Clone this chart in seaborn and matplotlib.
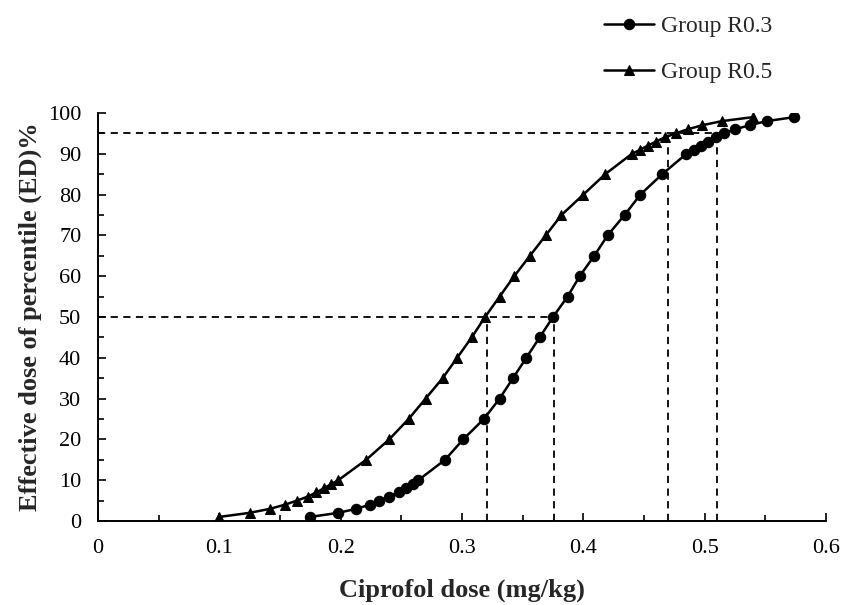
import matplotlib
matplotlib.use("Agg")
import matplotlib.pyplot as plt
import seaborn as sns
import pandas as pd
from matplotlib.ticker import MultipleLocator

# Data
ed_levels = [1, 2, 3, 4, 5, 6, 7, 8, 9, 10, 15, 20, 25, 30, 35, 40, 45, 50, 55, 60,
             65, 70, 75, 80, 85, 90, 91, 92, 93, 94, 95, 96, 97, 98, 99]
dose_r03 = [0.175, 0.198, 0.213, 0.224, 0.232, 0.240, 0.248, 0.254, 0.260, 0.264,
            0.286, 0.301, 0.318, 0.331, 0.342, 0.353, 0.364, 0.375, 0.387, 0.397,
            0.409, 0.420, 0.434, 0.447, 0.465, 0.485, 0.491, 0.497, 0.503, 0.509,
            0.516, 0.525, 0.537, 0.551, 0.574]
dose_r05 = [0.100, 0.125, 0.142, 0.154, 0.164, 0.173, 0.180, 0.186, 0.192, 0.198,
            0.221, 0.240, 0.256, 0.270, 0.284, 0.296, 0.308, 0.319, 0.331, 0.343,
            0.356, 0.369, 0.382, 0.400, 0.418, 0.440, 0.447, 0.453, 0.460, 0.467,
            0.476, 0.486, 0.498, 0.514, 0.540]
series_names = ["Group R0.3", "Group R0.5"]

# Reference lines (ED50 / ED95)
ed50_doses = [0.321, 0.376]
ed95_doses = [0.470, 0.510]
ref_levels = [50, 95]

x_label = "Ciprofol dose (mg/kg)"
y_label = "Effective dose of percentile (ED)%"

df = pd.concat([
    pd.DataFrame({"dose": dose_r03, "ed": ed_levels, "group": series_names[0]}),
    pd.DataFrame({"dose": dose_r05, "ed": ed_levels, "group": series_names[1]}),
], ignore_index=True)

sns.set_style("ticks")
plt.rcParams["font.family"] = ["Liberation Serif", "DejaVu Serif"]

fig = plt.figure(figsize=(8.46, 6.05), dpi=100)
ax = fig.add_axes([98 / 846, 1 - 521 / 605, (826 - 98) / 846, (521 - 113) / 605])

sns.lineplot(data=df, x="dose", y="ed", hue="group", style="group",
             markers={series_names[0]: "o", series_names[1]: "^"},
             dashes=False, palette=["black", "black"], sort=False,
             markersize=7.5, markeredgecolor="black", linewidth=1.8, ax=ax,
             legend=True)

dash = (0, (4, 3))
# horizontal dashed lines
ax.plot([0, ed50_doses[1]], [ref_levels[0]] * 2, color="black", lw=1.3, ls=dash)
ax.plot([0, ed95_doses[1]], [ref_levels[1]] * 2, color="black", lw=1.3, ls=dash)
# vertical dashed lines
for d in ed50_doses:
    ax.plot([d, d], [0, ref_levels[0]], color="black", lw=1.3, ls=dash)
for d in ed95_doses:
    ax.plot([d, d], [0, ref_levels[1]], color="black", lw=1.3, ls=dash)

ax.set_xlim(0, 0.6)
ax.set_ylim(0, 100)
ax.xaxis.set_major_locator(MultipleLocator(0.1))
ax.xaxis.set_minor_locator(MultipleLocator(0.05))
ax.yaxis.set_major_locator(MultipleLocator(10))
ax.yaxis.set_minor_locator(MultipleLocator(5))
ax.set_xticklabels([f"{v:g}" for v in ax.get_xticks()])
ax.tick_params(axis="both", which="both", direction="in", width=1.2, colors="black",
               labelsize=16)
ax.tick_params(axis="both", which="major", length=5.5)
ax.tick_params(axis="both", which="minor", length=4)
ax.tick_params(axis="x", which="major", pad=13)
ax.tick_params(axis="y", which="major", pad=12)

for s in ["top", "right"]:
    ax.spines[s].set_visible(False)
for s in ["left", "bottom"]:
    ax.spines[s].set_linewidth(1.4)
    ax.spines[s].set_color("black")

ax.set_xlabel(x_label, fontsize=19, fontweight="bold", labelpad=15)
ax.set_ylabel(y_label, fontsize=19, fontweight="bold", labelpad=4)

handles, labels = ax.get_legend_handles_labels()
ax.get_legend().remove()
fig.legend(handles, labels, loc="upper left", bbox_to_anchor=(595 / 846, 1 - 6 / 605),
           frameon=False, fontsize=17, handlelength=2.1, labelspacing=1.05,
           handletextpad=0.3, borderaxespad=0)

fig.savefig("out.png", dpi=100)
